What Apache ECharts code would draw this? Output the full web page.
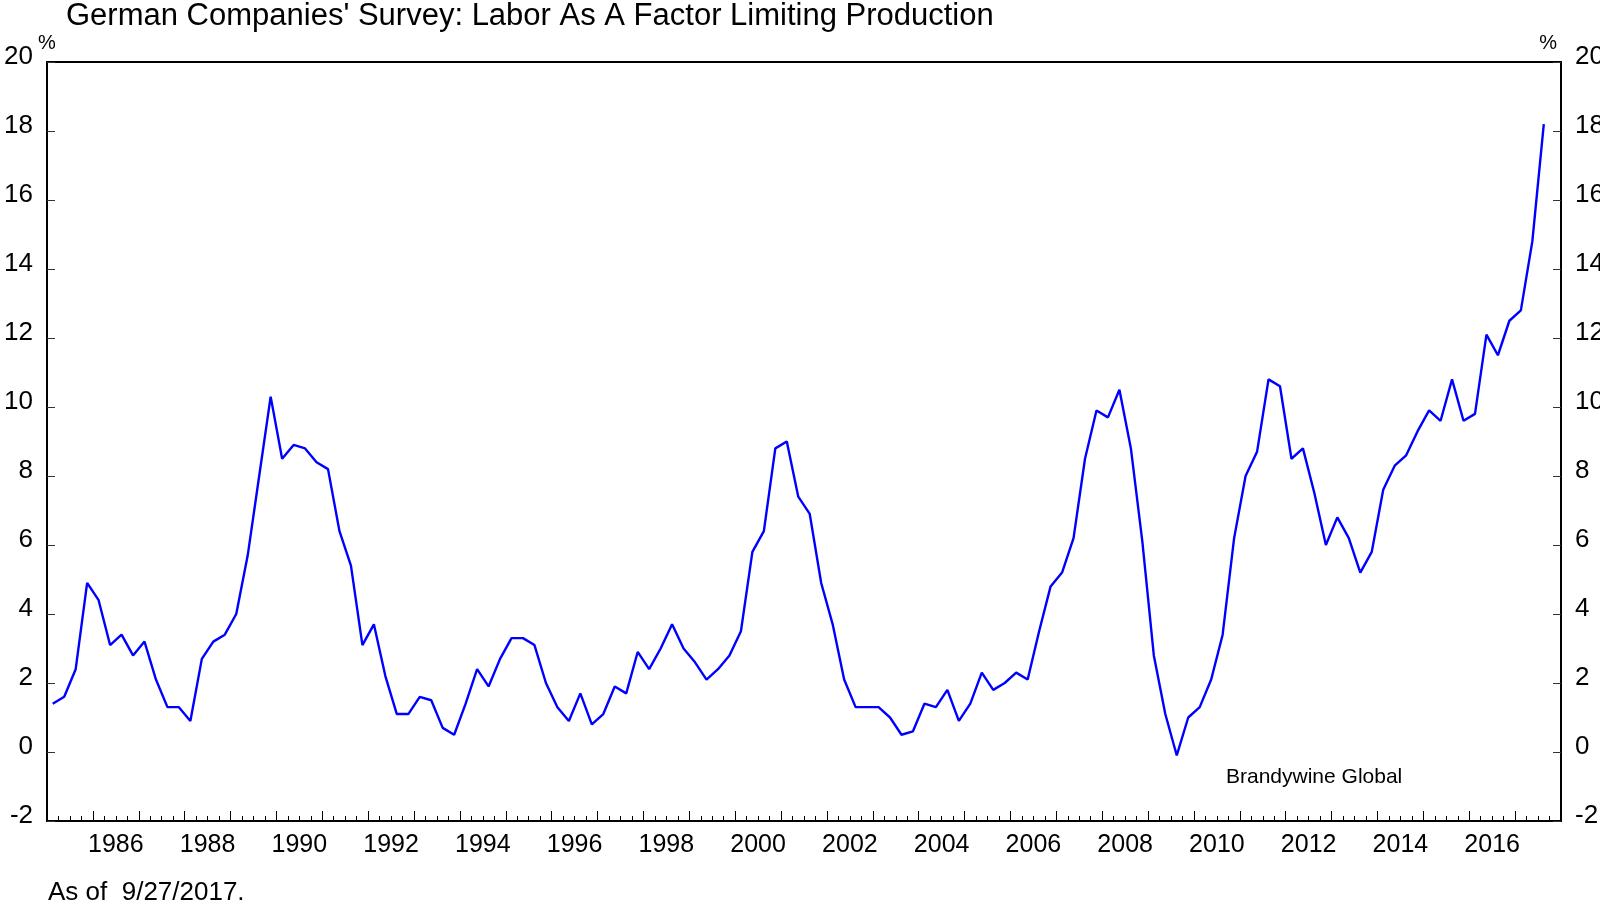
<!DOCTYPE html>
<html>
<head>
<meta charset="utf-8">
<script src="https://cdn.jsdelivr.net/npm/echarts@6/dist/echarts.min.js"></script>
<style>html,body{margin:0;padding:0;background:#fff}#c{width:1600px;height:905px}</style>
</head>
<body>
<div id="c"></div>
<script>
const chartTitle = "German Companies' Survey: Labor As A Factor Limiting Production";
const footnote = "As of  9/27/2017.";
const sourceNote = "Brandywine Global";
const unitLabel = "%";

const years = ['1985','1986','1987','1988','1989','1990','1991','1992','1993','1994','1995',
  '1996','1997','1998','1999','2000','2001','2002','2003','2004','2005','2006','2007','2008',
  '2009','2010','2011','2012','2013','2014','2015','2016','2017'];
const quarterNames = ['Q1','Q2','Q3','Q4'];

// Quarterly share of companies reporting labor as a limiting factor (%), 1985Q1 - 2017Q3
const laborLimiting = [
  1.4, 1.6, 2.4, 4.9,    // 1985
  4.4, 3.1, 3.4, 2.8,    // 1986
  3.2, 2.1, 1.3, 1.3,    // 1987
  0.9, 2.7, 3.2, 3.4,    // 1988
  4.0, 5.7, 8.0, 10.3,   // 1989
  8.5, 8.9, 8.8, 8.4,    // 1990
  8.2, 6.4, 5.4, 3.1,    // 1991
  3.7, 2.2, 1.1, 1.1,    // 1992
  1.6, 1.5, 0.7, 0.5,    // 1993
  1.4, 2.4, 1.9, 2.7,    // 1994
  3.3, 3.3, 3.1, 2.0,    // 1995
  1.3, 0.9, 1.7, 0.8,    // 1996
  1.1, 1.9, 1.7, 2.9,    // 1997
  2.4, 3.0, 3.7, 3.0,    // 1998
  2.6, 2.1, 2.4, 2.8,    // 1999
  3.5, 5.8, 6.4, 8.8,    // 2000
  9.0, 7.4, 6.9, 4.9,    // 2001
  3.7, 2.1, 1.3, 1.3,    // 2002
  1.3, 1.0, 0.5, 0.6,    // 2003
  1.4, 1.3, 1.8, 0.9,    // 2004
  1.4, 2.3, 1.8, 2.0,    // 2005
  2.3, 2.1, 3.5, 4.8,    // 2006
  5.2, 6.2, 8.5, 9.9,    // 2007
  9.7, 10.5, 8.8, 6.1,   // 2008
  2.8, 1.1, -0.1, 1.0,   // 2009
  1.3, 2.1, 3.4, 6.2,    // 2010
  8.0, 8.7, 10.8, 10.6,  // 2011
  8.5, 8.8, 7.5, 6.0,    // 2012
  6.8, 6.2, 5.2, 5.8,    // 2013
  7.6, 8.3, 8.6, 9.3,    // 2014
  9.9, 9.6, 10.8, 9.6,   // 2015
  9.8, 12.1, 11.5, 12.5, // 2016
  12.8, 14.8, 18.2       // 2017
];

const yMin = -2, yMax = 20, yStep = 2;

const quarters = [];
years.forEach(y => quarterNames.forEach(q => quarters.push(y + q)));

const FONT = "'Liberation Sans', Arial, Helvetica, sans-serif";

function yAxisDef(pos) {
  return {
    type: 'value', position: pos, min: yMin, max: yMax, interval: yStep,
    axisLine: { show: false, onZero: false },
    axisTick: { show: true, inside: true, length: 8, lineStyle: { color: '#333', width: 1 } },
    splitLine: { show: false },
    axisLabel: { fontSize: 26, color: '#000', fontFamily: FONT, margin: 14,
      verticalAlign: 'bottom', lineHeight: 10 },
    name: unitLabel, nameLocation: 'end', nameGap: 19, nameMoveOverlap: false,
    nameTextStyle: pos === 'left'
      ? { fontSize: 20, color: '#000', fontFamily: FONT, align: 'center', verticalAlign: 'middle' }
      : { fontSize: 20, color: '#000', fontFamily: FONT, align: 'right', verticalAlign: 'middle', padding: [0, 4, 0, 0] }
  };
}

const chart = echarts.init(document.getElementById('c'), null, { renderer: 'canvas' });
chart.setOption({
  animation: false,
  backgroundColor: '#fff',
  textStyle: { fontFamily: FONT },
  title: {
    text: chartTitle, left: 66, top: 1, padding: 0,
    textStyle: { fontSize: 31, fontWeight: 'normal', color: '#000', fontFamily: FONT }
  },
  grid: { left: 47, right: 39, top: 62, bottom: 84, show: true, outerBoundsMode: 'none',
    containLabel: false, borderColor: '#000', borderWidth: 2, backgroundColor: 'transparent' },
  xAxis: [
    {
      type: 'category', data: years, boundaryGap: true, position: 'bottom',
      axisLine: { show: false, onZero: false },
      axisTick: { show: true, inside: true, length: 10, interval: 0, lineStyle: { color: '#000', width: 1 } },
      axisLabel: { interval: (i, v) => (+v) % 2 === 0, fontSize: 25, color: '#000', fontFamily: FONT, margin: 12 },
      splitLine: { show: false }
    },
    {
      type: 'category', data: quarters, boundaryGap: true, position: 'bottom',
      axisLine: { show: false, onZero: false },
      axisTick: { show: true, inside: true, length: 5, interval: 0, lineStyle: { color: '#000', width: 1 } },
      axisLabel: { show: false },
      splitLine: { show: false }
    }
  ],
  yAxis: [yAxisDef('left'), yAxisDef('right')],
  series: [{
    type: 'line', xAxisIndex: 1, yAxisIndex: 0, data: laborLimiting,
    showSymbol: false, symbol: 'none',
    lineStyle: { color: '#0000ff', width: 2.4 }
  }],
  graphic: [
    { type: 'text', left: 48, top: 880, style: { text: footnote, font: '26px ' + FONT, fill: '#000' } },
    { type: 'text', left: 1226, top: 767, style: { text: sourceNote, font: '21px ' + FONT, fill: '#000' } }
  ]
});
</script>
</body>
</html>
